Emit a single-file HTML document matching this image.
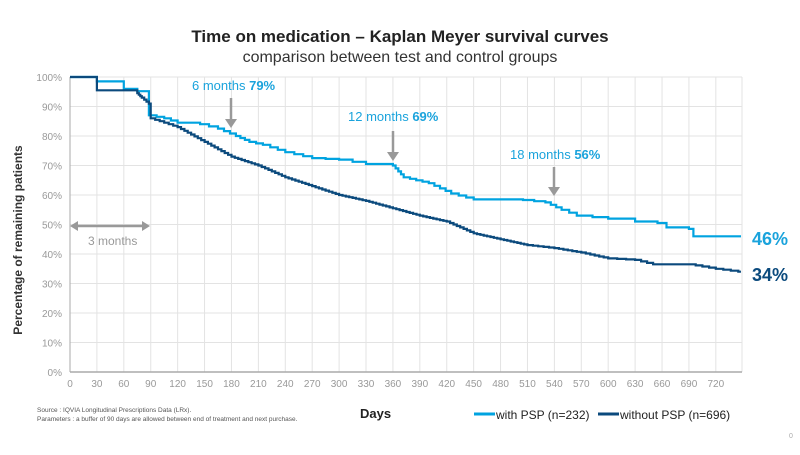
<!DOCTYPE html>
<html><head><meta charset="utf-8"><style>
body{margin:0;background:#fff;width:800px;height:450px;overflow:hidden;font-family:"Liberation Sans",sans-serif}
</style></head><body>
<svg id="s" width="800" height="450" xmlns="http://www.w3.org/2000/svg" font-family="Liberation Sans, sans-serif">
<text x="400" y="42" text-anchor="middle" font-size="17" font-weight="bold" fill="#222">Time on medication – Kaplan Meyer survival curves</text>
<text x="400" y="62" text-anchor="middle" font-size="16" fill="#333">comparison between test and control groups</text>
<g id="grid" stroke="#e3e3e3" stroke-width="1"></g>
<g id="lbl" font-size="10" fill="#999"></g>
<line x1="70" y1="372" x2="742" y2="372" stroke="#aaa" stroke-width="1.5"/>
<line x1="70" y1="77" x2="70" y2="372" stroke="#aaa" stroke-width="1"/>
<text transform="translate(22,240) rotate(-90)" text-anchor="middle" font-size="12" font-weight="bold" fill="#333">Percentage of remaining patients</text>
<path id="p1" fill="none" stroke="#00a3e0" stroke-width="2.2"/>
<path id="p2" fill="none" stroke="#0b4a7d" stroke-width="2.2"/>
<text x="192" y="90" font-size="13" fill="#1aa3dc">6 months <tspan font-weight="bold">79%</tspan></text>
<text x="348" y="121" font-size="13" fill="#1aa3dc">12 months <tspan font-weight="bold">69%</tspan></text>
<text x="510" y="159" font-size="13" fill="#1aa3dc">18 months <tspan font-weight="bold">56%</tspan></text>
<g stroke="#999" stroke-width="2.5" fill="#999">
<line x1="231" y1="98" x2="231" y2="120"/><path d="M225,119 L237,119 L231,128Z" stroke="none"/>
<line x1="393" y1="131" x2="393" y2="153"/><path d="M387,152 L399,152 L393,161Z" stroke="none"/>
<line x1="554" y1="167" x2="554" y2="188"/><path d="M548,187 L560,187 L554,196Z" stroke="none"/>
<line x1="76" y1="226" x2="144" y2="226"/><path d="M70,226 L78,221 L78,231Z M150,226 L142,221 L142,231Z" stroke="none"/>
</g>
<text x="88" y="245" font-size="12" fill="#999">3 months</text>
<text x="752" y="245" font-size="18" font-weight="bold" fill="#1aa3dc">46%</text>
<text x="752" y="281" font-size="18" font-weight="bold" fill="#0b4a7d">34%</text>
<text x="360" y="418" font-size="13" font-weight="bold" fill="#222">Days</text>
<text x="37" y="412" font-size="6.5" fill="#555">Source : IQVIA Longitudinal Prescriptions Data (LRx).</text>
<text x="37" y="421" font-size="6.5" fill="#555">Parameters : a buffer of 90 days are allowed between end of treatment and next purchase.</text>
<line x1="474" y1="414" x2="495" y2="414" stroke="#00a3e0" stroke-width="3"/>
<text x="496" y="419" font-size="12" fill="#222">with PSP (n=232)</text>
<line x1="598" y1="414" x2="619" y2="414" stroke="#0b4a7d" stroke-width="3"/>
<text x="620" y="419" font-size="12" fill="#222">without PSP (n=696)</text>
<text x="789" y="438" font-size="7" fill="#aaa">0</text>
</svg>
<script>
var X=d=>70+d*0.897, Y=p=>372-p*2.95, ns="http://www.w3.org/2000/svg";
var g=document.getElementById('grid'),l=document.getElementById('lbl');
function el(p,t,a,txt){var e=document.createElementNS(ns,t);for(var k in a)e.setAttribute(k,a[k]);if(txt!=null)e.textContent=txt;p.appendChild(e);}
for(var i=1;i<=10;i++)el(g,'line',{x1:70,x2:742,y1:Y(i*10),y2:Y(i*10)});
for(var d=30;d<=720;d+=30)el(g,'line',{x1:X(d),x2:X(d),y1:77,y2:372});
el(g,'line',{x1:742,x2:742,y1:77,y2:372});
for(var i=0;i<=10;i++)el(l,'text',{x:62,y:Y(i*10)+4,'text-anchor':'end'},i*10+'%');
for(var d=0;d<=720;d+=30)el(l,'text',{x:X(d),y:387,'text-anchor':'middle'},d);
function path(pts,steps){
 var s='M'+X(0)+','+Y(pts[0][1]);var cx=0,cy=pts[0][1];
 for(var i=1;i<pts.length;i++){var d=pts[i][0],p=pts[i][1],n=pts[i][2]||1;
  for(var k=1;k<=n;k++){var nd=cx+(d-cx)*k/n,np=cy+(p-cy)*k/n;
   s+=' H'+X(nd).toFixed(1)+' V'+Y(np).toFixed(1);}
  cx=d;cy=p;}
 return s+' H'+X(748);
}
var a=[[0,100],[30,98.5],[60,96],[75,95.2],[88,87],[105,86,2],[120,84.5,2],[145,84],[165,82.5,2],[185,80,3],[200,78,3],[215,77,2],[240,74.5,3],[270,72.5,3],[300,72,2],[330,70.5,2],[360,70],[372,66,4],[400,64,4],[425,60.5,4],[450,58.5,3],[505,58.3],[530,57.5,2],[548,55,3],[565,53,2],[600,52,2],[630,51],[655,50.5],[665,49],[690,48.5],[695,46],[748,46]];
var b=[[0,100],[30,95.5],[75,94.5],[80,93,3],[88,91,3],[90,86],[120,83,6],[150,78,8],[180,73,8],[210,70,8],[240,66,8],[270,63,8],[300,60,8],[330,58,8],[360,55.5,8],[390,53,8],[420,51,8],[450,47,8],[480,45,8],[510,43,8],[540,42,5],[570,40.5,6],[600,38.5,6],[630,38,3],[650,36.5,3],[690,36.5],[720,35,4],[745,34,3]];
document.getElementById('p1').setAttribute('d',path(a));
document.getElementById('p2').setAttribute('d',path(b));
</script>
</body></html>
